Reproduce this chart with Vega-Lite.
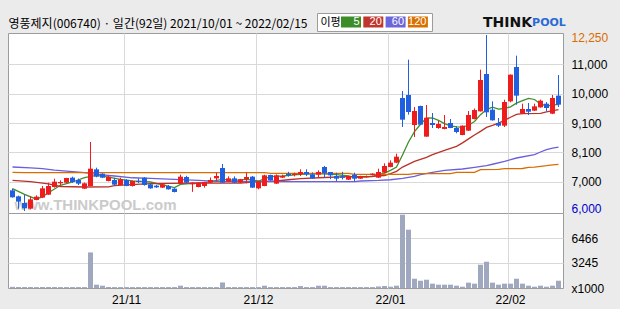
{
  "$schema": "https://vega.github.io/schema/vega-lite/v6.json",
  "background": "#ebebeb",
  "padding": {"left": 7, "top": 12, "right": 13, "bottom": 3},
  "bounds": "flush",
  "spacing": 0,
  "config": {
    "view": {"stroke": "#9c9c9c", "fill": "#ffffff"},
    "axis": {"domain": false, "ticks": false, "gridColor": "#d9d9d9", "labelFont": "Liberation Sans", "labelFontSize": 12, "labelColor": "#000000", "labelOverlap": false}
  },
  "resolve": {"scale": {"x": "shared", "y": "independent"}},
  "datasets": {
    "candles": [
      {"d":"2021-10-01","o":6734,"h":6793,"l":6474,"c":6486,"v":150},
      {"d":"2021-10-05","o":6521,"h":6545,"l":6083,"c":6332,"v":130},
      {"d":"2021-10-06","o":6284,"h":6580,"l":6000,"c":6095,"v":130},
      {"d":"2021-10-07","o":6083,"h":6509,"l":6060,"c":6414,"v":130},
      {"d":"2021-10-08","o":6390,"h":6556,"l":6380,"c":6509,"v":120},
      {"d":"2021-10-12","o":6474,"h":6888,"l":6460,"c":6805,"v":130},
      {"d":"2021-10-13","o":6580,"h":7006,"l":6570,"c":6888,"v":130},
      {"d":"2021-10-14","o":6852,"h":7148,"l":6829,"c":7042,"v":130},
      {"d":"2021-10-15","o":6983,"h":7089,"l":6912,"c":7030,"v":120},
      {"d":"2021-10-18","o":7006,"h":7180,"l":6995,"c":7172,"v":120},
      {"d":"2021-10-19","o":7184,"h":7220,"l":6995,"c":7030,"v":120},
      {"d":"2021-10-20","o":7101,"h":7150,"l":6923,"c":6971,"v":120},
      {"d":"2021-10-21","o":6793,"h":7010,"l":6780,"c":6983,"v":120},
      {"d":"2021-10-22","o":6888,"h":8450,"l":6880,"c":7503,"v":4600},
      {"d":"2021-10-25","o":7479,"h":7538,"l":7196,"c":7220,"v":430},
      {"d":"2021-10-26","o":7326,"h":7340,"l":7170,"c":7184,"v":300},
      {"d":"2021-10-27","o":7065,"h":7250,"l":7050,"c":7219,"v":130},
      {"d":"2021-10-28","o":7101,"h":7180,"l":6900,"c":6935,"v":120},
      {"d":"2021-10-29","o":6923,"h":7180,"l":6910,"c":7125,"v":120},
      {"d":"2021-11-01","o":7101,"h":7130,"l":6880,"c":6888,"v":120},
      {"d":"2021-11-02","o":6888,"h":7080,"l":6870,"c":7065,"v":120},
      {"d":"2021-11-03","o":7065,"h":7160,"l":6990,"c":7030,"v":120},
      {"d":"2021-11-04","o":7184,"h":7200,"l":6900,"c":6923,"v":120},
      {"d":"2021-11-05","o":6947,"h":6970,"l":6790,"c":6805,"v":120},
      {"d":"2021-11-08","o":6900,"h":6930,"l":6820,"c":6840,"v":120},
      {"d":"2021-11-09","o":6829,"h":6990,"l":6820,"c":6947,"v":120},
      {"d":"2021-11-10","o":6888,"h":6920,"l":6760,"c":6770,"v":120},
      {"d":"2021-11-11","o":6793,"h":6810,"l":6660,"c":6675,"v":120},
      {"d":"2021-11-12","o":6971,"h":7290,"l":6960,"c":7219,"v":300},
      {"d":"2021-11-15","o":7208,"h":7250,"l":6990,"c":7006,"v":120},
      {"d":"2021-11-16","o":6947,"h":7030,"l":6680,"c":7006,"v":120},
      {"d":"2021-11-17","o":6852,"h":7020,"l":6840,"c":7006,"v":120},
      {"d":"2021-11-18","o":6888,"h":7040,"l":6830,"c":7030,"v":120},
      {"d":"2021-11-19","o":7006,"h":7190,"l":6990,"c":7101,"v":120},
      {"d":"2021-11-22","o":7160,"h":7361,"l":7065,"c":7243,"v":120},
      {"d":"2021-11-23","o":7527,"h":7669,"l":7000,"c":7006,"v":720},
      {"d":"2021-11-24","o":7042,"h":7230,"l":7030,"c":7160,"v":120},
      {"d":"2021-11-25","o":7160,"h":7230,"l":6990,"c":7006,"v":120},
      {"d":"2021-11-26","o":7006,"h":7140,"l":6990,"c":7125,"v":120},
      {"d":"2021-11-29","o":7125,"h":7361,"l":6983,"c":7208,"v":120},
      {"d":"2021-11-30","o":7220,"h":7240,"l":6820,"c":6829,"v":120},
      {"d":"2021-12-01","o":6805,"h":7070,"l":6770,"c":7054,"v":120},
      {"d":"2021-12-02","o":6888,"h":7290,"l":6880,"c":7267,"v":300},
      {"d":"2021-12-03","o":7279,"h":7290,"l":7080,"c":7089,"v":120},
      {"d":"2021-12-06","o":6971,"h":7300,"l":6960,"c":7267,"v":120},
      {"d":"2021-12-07","o":7184,"h":7290,"l":7170,"c":7243,"v":120},
      {"d":"2021-12-08","o":7326,"h":7390,"l":7220,"c":7267,"v":120},
      {"d":"2021-12-09","o":7280,"h":7360,"l":7230,"c":7326,"v":120},
      {"d":"2021-12-10","o":7302,"h":7480,"l":7240,"c":7385,"v":250},
      {"d":"2021-12-13","o":7385,"h":7480,"l":7240,"c":7302,"v":120},
      {"d":"2021-12-14","o":7302,"h":7370,"l":7140,"c":7160,"v":120},
      {"d":"2021-12-15","o":7290,"h":7440,"l":7180,"c":7385,"v":300},
      {"d":"2021-12-16","o":7562,"h":7600,"l":7180,"c":7338,"v":300},
      {"d":"2021-12-17","o":7385,"h":7385,"l":7130,"c":7267,"v":120},
      {"d":"2021-12-20","o":7243,"h":7360,"l":7060,"c":7148,"v":120},
      {"d":"2021-12-21","o":7230,"h":7390,"l":7120,"c":7180,"v":120},
      {"d":"2021-12-22","o":7113,"h":7260,"l":7100,"c":7243,"v":120},
      {"d":"2021-12-23","o":7290,"h":7360,"l":7060,"c":7148,"v":120},
      {"d":"2021-12-24","o":7148,"h":7250,"l":7140,"c":7243,"v":120},
      {"d":"2021-12-27","o":7200,"h":7260,"l":7190,"c":7243,"v":120},
      {"d":"2021-12-28","o":7270,"h":7340,"l":7260,"c":7326,"v":120},
      {"d":"2021-12-29","o":7184,"h":7503,"l":7172,"c":7385,"v":200},
      {"d":"2021-12-30","o":7361,"h":7693,"l":7340,"c":7598,"v":260},
      {"d":"2022-01-03","o":7562,"h":7799,"l":7550,"c":7716,"v":170},
      {"d":"2022-01-04","o":7716,"h":8036,"l":7700,"c":7929,"v":300},
      {"d":"2022-01-05","o":10013,"h":10261,"l":8983,"c":9243,"v":9480},
      {"d":"2022-01-06","o":10119,"h":11374,"l":9421,"c":9516,"v":7540},
      {"d":"2022-01-07","o":9054,"h":9693,"l":8628,"c":9551,"v":1200},
      {"d":"2022-01-10","o":9729,"h":9740,"l":9050,"c":9066,"v":940},
      {"d":"2022-01-11","o":8640,"h":9764,"l":8640,"c":9314,"v":1070},
      {"d":"2022-01-12","o":9125,"h":9480,"l":8948,"c":9054,"v":560},
      {"d":"2022-01-13","o":8948,"h":9200,"l":8920,"c":9090,"v":430},
      {"d":"2022-01-14","o":8912,"h":9409,"l":8900,"c":8983,"v":430},
      {"d":"2022-01-17","o":9125,"h":9267,"l":8940,"c":8948,"v":430},
      {"d":"2022-01-18","o":8948,"h":9010,"l":8760,"c":8806,"v":300},
      {"d":"2022-01-19","o":8699,"h":9040,"l":8690,"c":9030,"v":170},
      {"d":"2022-01-20","o":8853,"h":9550,"l":8840,"c":9409,"v":690},
      {"d":"2022-01-21","o":9267,"h":9640,"l":9250,"c":9586,"v":560},
      {"d":"2022-01-24","o":9539,"h":11019,"l":9530,"c":10652,"v":3010},
      {"d":"2022-01-25","o":10865,"h":12250,"l":9338,"c":9504,"v":3400},
      {"d":"2022-01-26","o":9598,"h":9894,"l":9210,"c":9220,"v":690},
      {"d":"2022-01-27","o":9125,"h":9303,"l":8983,"c":9030,"v":430},
      {"d":"2022-01-28","o":9030,"h":9953,"l":8983,"c":9870,"v":560},
      {"d":"2022-02-03","o":9894,"h":10850,"l":9860,"c":10842,"v":560},
      {"d":"2022-02-04","o":11114,"h":11516,"l":9776,"c":10096,"v":1200},
      {"d":"2022-02-07","o":9456,"h":9811,"l":9440,"c":9622,"v":560},
      {"d":"2022-02-08","o":9622,"h":9835,"l":9409,"c":9527,"v":300},
      {"d":"2022-02-09","o":9563,"h":9811,"l":9550,"c":9717,"v":170},
      {"d":"2022-02-10","o":9681,"h":9954,"l":9670,"c":9918,"v":300},
      {"d":"2022-02-11","o":9811,"h":9870,"l":9539,"c":9658,"v":170},
      {"d":"2022-02-14","o":9456,"h":10119,"l":9440,"c":10013,"v":300},
      {"d":"2022-02-15","o":10096,"h":10830,"l":9693,"c":9776,"v":940}
    ],
    "ma": [
      {"k":"5","d":"2021-10-01","p":6793},{"k":"5","d":"2021-10-06","p":6590},{"k":"5","d":"2021-10-08","p":6420},{"k":"5","d":"2021-10-12","p":6509},
      {"k":"5","d":"2021-10-13","p":6650},{"k":"5","d":"2021-10-15","p":6912},{"k":"5","d":"2021-10-19","p":7030},{"k":"5","d":"2021-10-21","p":7184},
      {"k":"5","d":"2021-10-25","p":7267},{"k":"5","d":"2021-10-27","p":7200},{"k":"5","d":"2021-10-29","p":7125},{"k":"5","d":"2021-11-02","p":7070},
      {"k":"5","d":"2021-11-05","p":7030},{"k":"5","d":"2021-11-09","p":6930},{"k":"5","d":"2021-11-11","p":6829},{"k":"5","d":"2021-11-12","p":6947},
      {"k":"5","d":"2021-11-16","p":6983},{"k":"5","d":"2021-11-18","p":7006},{"k":"5","d":"2021-11-23","p":7125},{"k":"5","d":"2021-11-25","p":7089},
      {"k":"5","d":"2021-11-29","p":7125},{"k":"5","d":"2021-12-01","p":7065},{"k":"5","d":"2021-12-03","p":7220},{"k":"5","d":"2021-12-07","p":7243},
      {"k":"5","d":"2021-12-09","p":7280},{"k":"5","d":"2021-12-10","p":7302},{"k":"5","d":"2021-12-15","p":7326},{"k":"5","d":"2021-12-20","p":7290},
      {"k":"5","d":"2021-12-22","p":7243},{"k":"5","d":"2021-12-23","p":7184},{"k":"5","d":"2021-12-28","p":7220},{"k":"5","d":"2021-12-29","p":7290},
      {"k":"5","d":"2021-12-30","p":7349},{"k":"5","d":"2022-01-03","p":7444},{"k":"5","d":"2022-01-04","p":7560},{"k":"5","d":"2022-01-05","p":7990},
      {"k":"5","d":"2022-01-06","p":8450},{"k":"5","d":"2022-01-07","p":8820},{"k":"5","d":"2022-01-10","p":9080},{"k":"5","d":"2022-01-11","p":9300},
      {"k":"5","d":"2022-01-12","p":9303},{"k":"5","d":"2022-01-13","p":9220},{"k":"5","d":"2022-01-14","p":9101},{"k":"5","d":"2022-01-17","p":9020},
      {"k":"5","d":"2022-01-18","p":8985},{"k":"5","d":"2022-01-19","p":8980},{"k":"5","d":"2022-01-20","p":9045},{"k":"5","d":"2022-01-21","p":9180},
      {"k":"5","d":"2022-01-24","p":9420},{"k":"5","d":"2022-01-25","p":9600},{"k":"5","d":"2022-01-26","p":9690},{"k":"5","d":"2022-01-27","p":9620},
      {"k":"5","d":"2022-01-28","p":9640},{"k":"5","d":"2022-02-03","p":9700},{"k":"5","d":"2022-02-04","p":9830},{"k":"5","d":"2022-02-07","p":9920},
      {"k":"5","d":"2022-02-08","p":10000},{"k":"5","d":"2022-02-09","p":9960},{"k":"5","d":"2022-02-10","p":9800},{"k":"5","d":"2022-02-11","p":9730},
      {"k":"5","d":"2022-02-14","p":9760},{"k":"5","d":"2022-02-15","p":9790},

      {"k":"20","d":"2021-10-01","p":7090},{"k":"20","d":"2021-10-07","p":7040},{"k":"20","d":"2021-10-13","p":6960},{"k":"20","d":"2021-10-15","p":6870},
      {"k":"20","d":"2021-10-21","p":6852},{"k":"20","d":"2021-10-27","p":6860},{"k":"20","d":"2021-10-28","p":6900},{"k":"20","d":"2021-11-01","p":6930},
      {"k":"20","d":"2021-11-05","p":6975},{"k":"20","d":"2021-11-16","p":6990},{"k":"20","d":"2021-11-26","p":6990},{"k":"20","d":"2021-11-30","p":7030},
      {"k":"20","d":"2021-12-06","p":7065},{"k":"20","d":"2021-12-08","p":7110},{"k":"20","d":"2021-12-10","p":7150},{"k":"20","d":"2021-12-16","p":7190},
      {"k":"20","d":"2021-12-22","p":7220},{"k":"20","d":"2021-12-28","p":7230},{"k":"20","d":"2021-12-30","p":7260},{"k":"20","d":"2022-01-03","p":7330},
      {"k":"20","d":"2022-01-04","p":7409},{"k":"20","d":"2022-01-05","p":7560},{"k":"20","d":"2022-01-07","p":7764},{"k":"20","d":"2022-01-11","p":7906},
      {"k":"20","d":"2022-01-12","p":8000},{"k":"20","d":"2022-01-14","p":8155},{"k":"20","d":"2022-01-18","p":8297},{"k":"20","d":"2022-01-19","p":8420},
      {"k":"20","d":"2022-01-20","p":8560},{"k":"20","d":"2022-01-21","p":8700},{"k":"20","d":"2022-01-24","p":8829},{"k":"20","d":"2022-01-25","p":8971},
      {"k":"20","d":"2022-01-26","p":9040},{"k":"20","d":"2022-01-27","p":9120},{"k":"20","d":"2022-01-28","p":9220},{"k":"20","d":"2022-02-03","p":9330},
      {"k":"20","d":"2022-02-04","p":9430},{"k":"20","d":"2022-02-07","p":9456},{"k":"20","d":"2022-02-10","p":9470},{"k":"20","d":"2022-02-11","p":9516},
      {"k":"20","d":"2022-02-15","p":9600},

      {"k":"60","d":"2021-10-01","p":7563},{"k":"60","d":"2021-10-07","p":7530},{"k":"60","d":"2021-10-12","p":7503},{"k":"60","d":"2021-10-14","p":7450},
      {"k":"60","d":"2021-10-19","p":7400},{"k":"60","d":"2021-10-21","p":7361},{"k":"60","d":"2021-10-25","p":7302},{"k":"60","d":"2021-10-28","p":7243},
      {"k":"60","d":"2021-11-02","p":7180},{"k":"60","d":"2021-11-05","p":7160},{"k":"60","d":"2021-11-11","p":7125},{"k":"60","d":"2021-11-17","p":7090},
      {"k":"60","d":"2021-11-22","p":7050},{"k":"60","d":"2021-11-30","p":7040},{"k":"60","d":"2021-12-23","p":7040},{"k":"60","d":"2021-12-24","p":7065},
      {"k":"60","d":"2021-12-29","p":7085},{"k":"60","d":"2022-01-03","p":7110},{"k":"60","d":"2022-01-05","p":7160},{"k":"60","d":"2022-01-07","p":7230},
      {"k":"60","d":"2022-01-10","p":7290},{"k":"60","d":"2022-01-12","p":7373},{"k":"60","d":"2022-01-14","p":7444},{"k":"60","d":"2022-01-19","p":7492},
      {"k":"60","d":"2022-01-21","p":7551},{"k":"60","d":"2022-01-25","p":7610},{"k":"60","d":"2022-01-26","p":7660},{"k":"60","d":"2022-01-28","p":7764},
      {"k":"60","d":"2022-02-04","p":7882},{"k":"60","d":"2022-02-09","p":8001},{"k":"60","d":"2022-02-10","p":8095},{"k":"60","d":"2022-02-11","p":8180},
      {"k":"60","d":"2022-02-14","p":8230},{"k":"60","d":"2022-02-15","p":8265},

      {"k":"120","d":"2021-10-01","p":7373},{"k":"120","d":"2021-10-06","p":7365},{"k":"120","d":"2021-12-02","p":7365},{"k":"120","d":"2021-12-03","p":7338},
      {"k":"120","d":"2021-12-22","p":7338},{"k":"120","d":"2021-12-23","p":7302},{"k":"120","d":"2022-01-06","p":7300},{"k":"120","d":"2022-01-07","p":7326},
      {"k":"120","d":"2022-01-17","p":7326},{"k":"120","d":"2022-01-18","p":7373},{"k":"120","d":"2022-01-21","p":7373},{"k":"120","d":"2022-01-24","p":7468},
      {"k":"120","d":"2022-01-27","p":7480},{"k":"120","d":"2022-01-28","p":7503},{"k":"120","d":"2022-02-07","p":7510},{"k":"120","d":"2022-02-08","p":7551},
      {"k":"120","d":"2022-02-09","p":7560},{"k":"120","d":"2022-02-10","p":7586},{"k":"120","d":"2022-02-11","p":7610},{"k":"120","d":"2022-02-14","p":7640},
      {"k":"120","d":"2022-02-15","p":7657}
    ]
  },
  "vconcat": [
    {
      "width": 555,
      "height": 180,
      "layer": [
        {
          "data": {"name": "ma"},
          "mark": {"type": "line"},
          "encoding": {
            "x": {"field": "d", "type": "ordinal", "scale": {"type": "band", "paddingInner": 0.17, "paddingOuter": 0.335},
              "axis": {"values": ["2021-11-01", "2021-12-01", "2022-01-03", "2022-02-03"], "bandPosition": 0, "grid": true, "labels": false,
                "title": "영풍제지(006740) · 일간(92일) 2021/10/01 ~ 2022/02/15", "titleX": 0, "titleY": -190, "titleAlign": "left", "titleBaseline": "middle", "titleAngle": 0,
                "titleFont": "Noto Sans CJK KR", "titleFontSize": 12, "titleFontWeight": "normal", "titleColor": "#000000", "titleLimit": 0}},
            "y": {"field": "p", "type": "quantitative", "scale": {"domain": [5929, 12321], "nice": false, "zero": false},
              "axis": {"orient": "right", "values": [6000, 7042, 8083, 9125, 10167, 11208, 12250], "tickCount": 20, "labelOverlap": false,
                "labelExpr": "datum.value == 12250 ? '12,250' : datum.value == 6000 ? '6,000' : datum.value == 7042 ? '7,000' : datum.value == 8083 ? '8,100' : datum.value == 9125 ? '9,100' : datum.value == 10167 ? '10,000' : '11,000'",
                "labelPadding": 8,
                "labelColor": {"condition": [{"test": "datum.value == 12250", "value": "#d96b00"}, {"test": "datum.value == 6000", "value": "#0000cc"}], "value": "#000000"},
                "labelOffset": {"condition": [{"test": "datum.value == 12250", "value": 3}, {"test": "datum.value == 6000", "value": -3}], "value": 0},
                "gridOpacity": {"condition": {"test": "datum.value == 6000 || datum.value == 12250", "value": 0}, "value": 1},
                "title": "www.THINKPOOL.com", "titleAngle": 0, "titleX": -468, "titleY": 171, "titleAlign": "center", "titleBaseline": "middle",
                "titleColor": "#cbcbcb", "titleFont": "Liberation Sans", "titleFontSize": 15, "titleFontWeight": "bold"}},
            "stroke": {"field": "k", "type": "nominal", "scale": {"domain": ["120", "60", "20", "5"], "range": ["#d96e00", "#6b5fdc", "#bb3129", "#3f8f2a"]}, "legend": null},
            "strokeWidth": {"value": 1.3}
          }
        },
        {
          "data": {"name": "ma"},
          "mark": {"type": "point", "filled": true, "opacity": 0},
          "encoding": {
            "x": {"field": "d", "type": "ordinal"},
            "y": {"field": "p", "type": "quantitative"},
            "fill": {"field": "k", "type": "nominal", "scale": {"domain": ["5", "20", "60", "120"], "range": ["#3c8c28", "#c0362c", "#6b66d9", "#d97000"]},
              "legend": {"orient": "none", "legendX": 309, "legendY": -20, "direction": "horizontal",
                "title": "이평", "titleOrient": "left", "titleFont": "Noto Sans CJK KR", "titleFontSize": 11, "titleFontWeight": "normal", "titleColor": "#000000", "titlePadding": 4, "titleBaseline": "middle",
                "symbolType": "M-2,-1.1H2V1.1H-2Z", "symbolSize": 100, "symbolStrokeWidth": 0, "symbolOpacity": 1,
                "labelAlign": "right", "labelOffset": 3, "labelColor": "#ffffff", "labelFont": "Liberation Sans", "labelFontSize": 11,
                "columnPadding": 1.3, "padding": 3.5, "fillColor": "#ffffff", "strokeColor": "#9c9c9c"}}
          }
        },
        {
          "data": {"name": "candles"},
          "mark": {"type": "rule", "strokeWidth": 1},
          "encoding": {
            "x": {"field": "d", "type": "ordinal"},
            "y": {"field": "l", "type": "quantitative"},
            "y2": {"field": "h"},
            "color": {"condition": {"test": "datum.c >= datum.o", "value": "#ee1c1c"}, "value": "#1f5fe0"}
          }
        },
        {
          "data": {"name": "candles"},
          "mark": {"type": "bar"},
          "encoding": {
            "x": {"field": "d", "type": "ordinal"},
            "y": {"field": "o", "type": "quantitative"},
            "y2": {"field": "c"},
            "color": {"condition": {"test": "datum.c >= datum.o", "value": "#ee1c1c"}, "value": "#1f5fe0"}
          }
        }
      ]
    },
    {
      "width": 555,
      "height": 75,
      "data": {"name": "candles"},
      "mark": {"type": "bar", "color": "#a0a8bf"},
      "encoding": {
        "x": {"field": "d", "type": "ordinal", "scale": {"type": "band", "paddingInner": 0.17, "paddingOuter": 0.335},
          "axis": {"values": ["2021-11-01", "2021-12-01", "2022-01-03", "2022-02-03"], "bandPosition": 0, "grid": true,
            "labelExpr": "slice(datum.value, 2, 4) + '/' + slice(datum.value, 5, 7)", "labelPadding": 6, "labelAngle": 0,
            "title": "THINK", "titleX": 499, "titleY": -266, "titleAlign": "center", "titleBaseline": "middle", "titleAngle": 0,
            "titleFont": "DejaVu Sans", "titleFontSize": 14, "titleFontWeight": "bold", "titleColor": "#111111"}},
        "y": {"field": "v", "type": "quantitative", "scale": {"domain": [0, 9699], "nice": false},
          "axis": {"orient": "right", "values": [0, 3245, 6466], "tickCount": 10, "labelOverlap": false, "labelExpr": "datum.value == 0 ? 'x1000' : '' + datum.value", "labelPadding": 8,
            "gridOpacity": {"condition": {"test": "datum.value == 0", "value": 0}, "value": 1},
            "title": "POOL", "titleAngle": 0, "titleX": -14.5, "titleY": -191, "titleAlign": "center", "titleBaseline": "middle",
            "titleFont": "DejaVu Sans", "titleFontSize": 11, "titleFontWeight": "bold", "titleColor": "#2a6ad6"}}
      }
    }
  ]
}
